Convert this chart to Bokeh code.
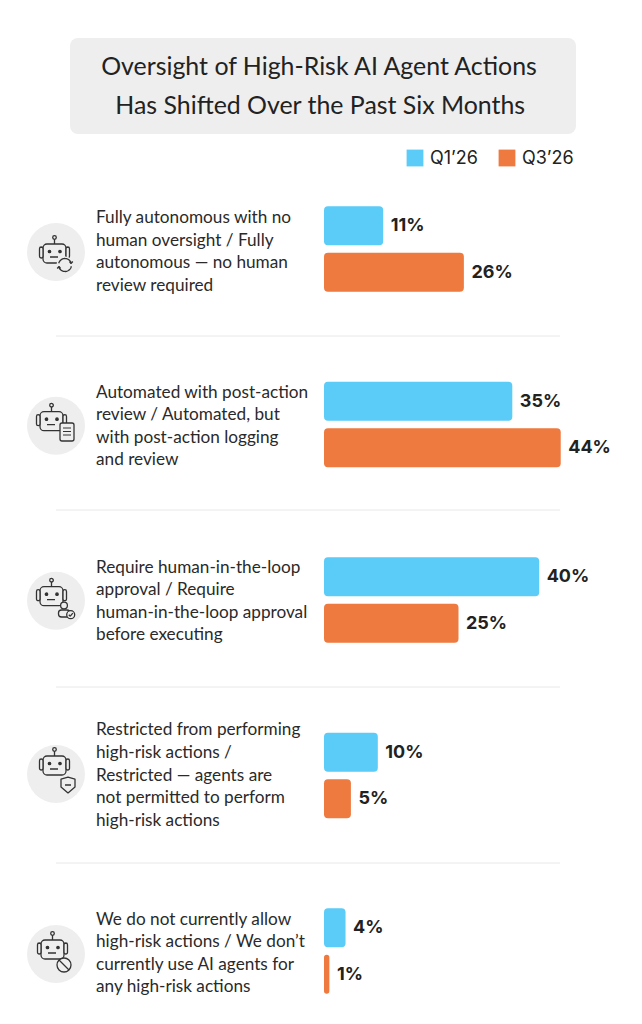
import math
from bokeh.plotting import figure
from bokeh.models import Range1d, Legend, LegendItem
from bokeh.core.properties import value
from bokeh.embed import file_html
from bokeh.resources import INLINE

title_lines = ["Oversight of High-Risk AI Agent Actions", "Has Shifted Over the Past Six Months"]
series_names = ["Q1\u201926", "Q3\u201926"]
q1_values = [11, 35, 40, 10, 4]
q3_values = [26, 44, 25, 5, 1]
category_lines = [
    ["Fully autonomous with no", "human oversight / Fully", "autonomous \u2014 no human", "review required"],
    ["Automated with post-action", "review / Automated, but", "with post-action logging", "and review"],
    ["Require human-in-the-loop", "approval / Require", "human-in-the-loop approval", "before executing"],
    ["Restricted from performing", "high-risk actions /", "Restricted \u2014 agents are", "not permitted to perform", "high-risk actions"],
    ["We do not currently allow", "high-risk actions /  We don\u2019t", "currently use AI agents for", "any high-risk actions"],
]
rows = [0, 1, 2, 3, 4]

BLUE, ORANGE, INK, GREY = "#5BCBF8", "#EE7A3F", "#222222", "#EEEEEE"
BODY_FONT, LABEL_FONT = "Lato", "Inter"
W, H = 634, 1016
PX = 5.38
ROW = 175.5
ORG = 0.5
def sx(px): return (px - 324) / PX
def sy(px): return (px - 249) / ROW

p = figure(width=W, height=H, output_backend="svg", toolbar_location=None, min_border=0,
           x_range=Range1d(sx(ORG), sx(ORG + W)), y_range=Range1d(sy(ORG + H), sy(ORG)))
p.axis.visible = False
p.grid.visible = False
p.outline_line_color = None
p.extra_x_ranges["px"] = Range1d(ORG, ORG + W)
p.extra_y_ranges["px"] = Range1d(ORG + H, ORG)
PXR = dict(x_range_name="px", y_range_name="px")

def ptext(x, y, t, size, font, color=INK, style="normal", align="left"):
    p.text([x], [y], text=[t], text_font=value(font), text_font_size=f"{size}px", text_color=color,
           text_font_style=style, text_align=align, text_baseline="middle", **PXR)

# title panel
p.quad(left=[70], right=[576], top=[38], bottom=[134], fill_color=GREY, line_color=None, border_radius=8, **PXR)
for t, y in zip(title_lines, [65, 104]):
    ptext(320.5, y, t, 24.9, BODY_FONT, align="center")

# bars
bar_h = 39 / ROW
off = 23.3 / ROW
r1 = p.hbar(y=[r - off for r in rows], left=0, right=q1_values, height=bar_h, fill_color=BLUE, line_color=None, border_radius=4)
r2 = p.hbar(y=[r + off for r in rows], left=0, right=q3_values, height=bar_h, fill_color=ORANGE, line_color=None, border_radius=4)
GAP = 7.5 / PX
p.text([v + GAP for v in q1_values], [r - off for r in rows], text=[f"{v}%" for v in q1_values],
       text_font=value(LABEL_FONT), text_font_size="18px", text_font_style="bold", text_color=INK,
       text_baseline="middle", text_align="left", y_offset=-1)
p.text([v + GAP for v in q3_values], [r + off for r in rows], text=[f"{v}%" for v in q3_values],
       text_font=value(LABEL_FONT), text_font_size="18px", text_font_style="bold", text_color=INK,
       text_baseline="middle", text_align="left", y_offset=-1)

legend = Legend(items=[LegendItem(label=series_names[0], renderers=[r1]), LegendItem(label=series_names[1], renderers=[r2])],
                orientation="horizontal", location=(404, H - 168), glyph_width=21, glyph_height=21,
                label_standoff=5, spacing=18, padding=0, margin=0, border_line_color=None,
                background_fill_alpha=0, label_text_font=LABEL_FONT, label_text_font_size="18px",
                label_text_color=INK)
p.add_layout(legend, "center")

# separators
for y in [336, 510, 687, 863]:
    p.line([56, 560], [y, y], line_color="#E8E8E8", line_width=1, **PXR)

# category labels
LINE = 22.6
centers = [250.5, 425, 600, 774, 952]
for lines, c in zip(category_lines, centers):
    top = c - (len(lines) - 1) * LINE / 2
    for i, t in enumerate(lines):
        ptext(96, top + i * LINE, t, 17.2, BODY_FONT, color="#2A2A2A")

# icons
IC = "#333333"
def robot(cx, cy, dx, dy):
    l = dict(line_color=IC, line_width=1.3, **PXR)
    x0, y0 = cx + dx, cy + dy
    p.quad(left=[x0], right=[x0 + 23], top=[y0], bottom=[y0 + 19], fill_color=GREY, border_radius=4, **l)
    p.quad(left=[x0 - 3.5], right=[x0], top=[y0 + 3], bottom=[y0 + 14], fill_color=GREY, border_radius=3, **l)
    p.quad(left=[x0 + 23], right=[x0 + 26.5], top=[y0 + 3], bottom=[y0 + 14], fill_color=GREY, border_radius=3, **l)
    p.line([x0 + 11.5, x0 + 11.5], [y0 - 5, y0], **l)
    p.circle([x0 + 11.5], [y0 - 6.5], radius=1.8, fill_color=GREY, **l)
    p.circle([x0 + 6.5, x0 + 17], [y0 + 7.5, y0 + 7.5], radius=1.2, fill_color=IC, **l)
    p.line([x0 + 7, x0 + 15], [y0 + 13, y0 + 13], **l)

icon_y = [252, 425.7, 600.7, 774, 954]
for cy in icon_y:
    p.circle([56], [cy], radius=29, fill_color=GREY, line_color=None, **PXR)
l = dict(line_color=IC, line_width=1.3, **PXR)

def ring(cx, cy, r, a0, a1):
    n = 16
    angs = [a0 + (a1 - a0) * i / n for i in range(n + 1)]
    return [cx + r * math.cos(a) for a in angs], [cy + r * math.sin(a) for a in angs]

# row 1: refresh badge
robot(56, 252, -13, -8)
p.circle([65], [265], radius=8.5, fill_color=GREY, line_color=None, **PXR)
for a0, a1 in [(0.2, 2.8), (3.4, 5.9)]:
    xs, ys = ring(65, 265, 6.5, a0, a1)
    p.line(xs, ys, **l)
# arrow tips of the refresh badge
p.line([69.5, 71, 72.8], [261.5, 263.5, 261.5], **l)
p.line([57.2, 59, 60.5], [268.5, 266.5, 268.5], **l)
# row 2: document badge
robot(56, 425.7, -16, -14)
p.quad(left=[60], right=[74], top=[423], bottom=[441], fill_color=GREY, border_radius=2, **l)
for y in [428, 431.5, 435]:
    p.line([63, 71], [y, y], line_color=IC, line_width=1, **PXR)
# row 3: person + check badge
robot(56, 600.7, -16, -14)
p.circle([64], [605.5], radius=3.4, fill_color=GREY, **l)
p.quad(left=[58.5], right=[70], top=[610], bottom=[617], fill_color=GREY, border_radius=3, **l)
p.circle([70.7], [614.7], radius=4, fill_color=GREY, **l)
p.line([68.8, 70.3, 72.8], [614.7, 616.2, 613.2], **l)
# row 4: shield badge
robot(56, 774, -13, -18)
p.patch([61, 68, 75, 75, 68, 61, 61], [779, 777, 779, 787, 793, 787, 779], fill_color=GREY, **l)
p.line([65, 71], [785, 785], **l)
# row 5: prohibition badge
robot(56, 954, -15, -14)
p.circle([64], [965], radius=7, fill_color=GREY, **l)
p.line([59, 69], [960, 970], **l)

open("out.html", "w").write(file_html(p, INLINE))
